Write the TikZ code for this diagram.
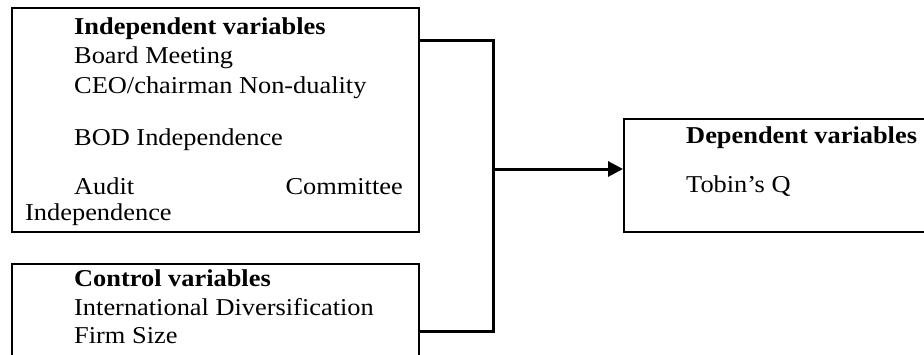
\documentclass[tikz,border=0pt]{standalone}
\usepackage{fontspec}
\setmainfont{Liberation Serif}[FakeStretch=1.09]
\usetikzlibrary{arrows.meta}
\begin{document}
\begin{tikzpicture}[x=1pt,y=-1pt,
  box/.style={draw,line width=2pt,inner sep=0pt,anchor=north west},
  txt/.style={anchor=base west,inner sep=0pt,font=\fontsize{24.2}{30}\selectfont},
  txtr/.style={anchor=base east,inner sep=0pt,font=\fontsize{24.2}{30}\selectfont},
  conn/.style={line width=3pt,line cap=rect,line join=miter},
  arr/.style={line width=3pt,-{Triangle[length=15pt,width=15pt]}}]
\useasboundingbox (0,0) rectangle (924,354);
\clip (0,0) rectangle (924,354);
% boxes
\node[box,minimum width=407pt,minimum height=224pt] (indep) at (11,7) {};
\node[box,minimum width=407pt,minimum height=110pt] (ctrl) at (11,263) {};
\node[box,minimum width=320pt,minimum height=113pt] (dep) at (623,118) {};
% texts box 1
\node[txt] (t1) at (74,34) {\textbf{Independent variables}};
\node[txt] (t2) at (74,63) {Board Meeting};
\node[txt] (t3) at (74,93.5) {CEO/chairman Non-duality};
\node[txt] (t4) at (74,145) {BOD Independence};
\node[txt] (t5) at (74,194) {Audit};
\node[txtr] (t6) at (403,194) {Committee};
\node[txt] (t7) at (25,220) {Independence};
% texts box 2
\node[txt] (c1) at (74,286.5) {\textbf{Control variables}};
\node[txt] (c2) at (74,315) {International Diversification};
\node[txt] (c3) at (74,343.5) {Firm Size};
% texts box 3
\node[txt] (d1) at (686,143.3) {\textbf{Dependent variables}};
\node[txt] (d2) at (686,192.7) {Tobin’s Q};
% connectors
\coordinate (a) at (indep.east |- 0,40);
\coordinate (b) at (ctrl.east |- 0,331);
\coordinate (j) at (493,169);
\draw[conn] (a) -| (j) |- (b);
\draw[arr] (j) -- (dep.west |- j);
\end{tikzpicture}
\end{document}
